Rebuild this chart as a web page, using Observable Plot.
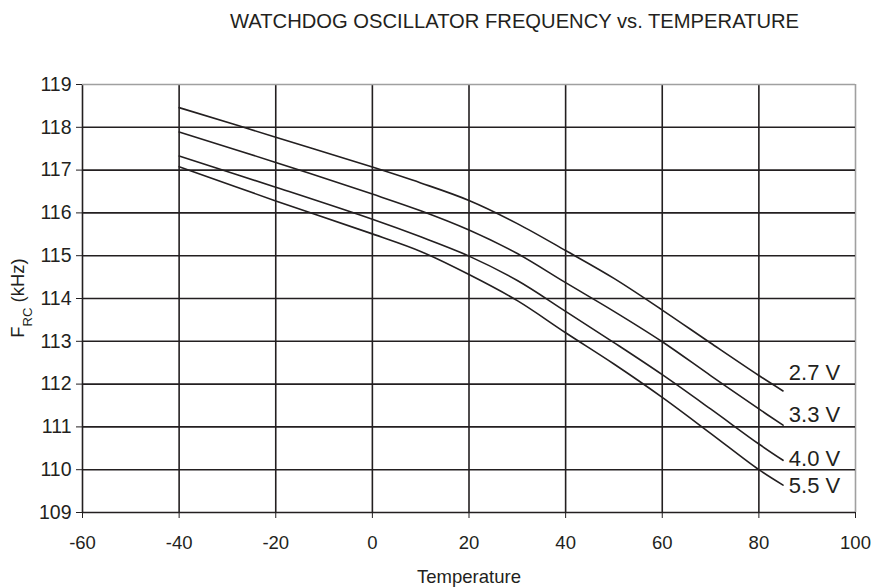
<!DOCTYPE html>
<html>
<head>
<meta charset="utf-8">
<script src="https://cdn.jsdelivr.net/npm/d3@7"></script>
<script src="https://cdn.jsdelivr.net/npm/@observablehq/plot@0.6"></script>
<style>
  body { margin: 0; background: #fff; }
  #wrap { position: relative; width: 874px; height: 588px; font-family: "Liberation Sans", Arial, sans-serif; color: #231f20; }
  #title { position: absolute; left: 230px; top: 11px; font-size: 20.2px; white-space: nowrap; line-height: 1; }
  #chart { position: absolute; left: 0; top: 0; }
</style>
</head>
<body>
<div id="wrap">
  <div id="chart"></div>
  <div id="title">WATCHDOG OSCILLATOR FREQUENCY vs. TEMPERATURE</div>
</div>
<script>
// Temperature (°C) sample points
const temps = [-40, -20, 0, 10, 20, 30, 40, 50, 60, 70, 80, 85];
// F_RC (kHz) for each supply voltage
const f27 = [118.46, 117.77, 117.07, 116.70, 116.29, 115.75, 115.12, 114.47, 113.73, 112.96, 112.20, 111.84];
const f33 = [117.89, 117.18, 116.44, 116.05, 115.60, 115.05, 114.37, 113.70, 112.99, 112.20, 111.42, 111.04];
const f40 = [117.33, 116.60, 115.85, 115.44, 114.99, 114.42, 113.70, 112.97, 112.22, 111.42, 110.60, 110.22];
const f55 = [117.08, 116.28, 115.51, 115.10, 114.56, 113.95, 113.20, 112.47, 111.69, 110.85, 110.00, 109.64];
const seriesNames = ["2.7 V", "3.3 V", "4.0 V", "5.5 V"];
// label anchor values (temperature, frequency)
const labelTemp = [86.2, 86.2, 86.2, 86.2];
const labelFreq = [112.26, 111.29, 110.26, 109.63];
const xTicks = [-60, -40, -20, 0, 20, 40, 60, 80, 100];
const yTicks = [109, 110, 111, 112, 113, 114, 115, 116, 117, 118, 119];

const rows = [];
[f27, f33, f40, f55].forEach((arr, i) =>
  arr.forEach((v, j) => rows.push({series: seriesNames[i], t: temps[j], f: v})));
const labels = seriesNames.map((s, i) => ({s, t: labelTemp[i], f: labelFreq[i]}));

const ink = "#231f20";
const plot = Plot.plot({
  width: 874,
  height: 588,
  marginLeft: 82,
  marginRight: 19,
  marginTop: 84,
  marginBottom: 76,
  style: {fontFamily: '"Liberation Sans", Arial, sans-serif', fontSize: "18px", color: ink, background: "white"},
  x: {domain: [-60, 100]},
  y: {domain: [109, 119]},
  marks: [
    Plot.ruleX(xTicks.filter(d => d < 100), {stroke: ink, strokeWidth: 1.6}),
    Plot.ruleX([100], {stroke: "#a0a0a0", strokeWidth: 1.6}),
    Plot.ruleY(yTicks.filter(d => d < 119), {stroke: ink, strokeWidth: 1.6}),
    Plot.ruleY([119], {stroke: "#a0a0a0", strokeWidth: 1.6}),
    Plot.axisX({ticks: xTicks, tickSize: 6, tickPadding: 17, tickFormat: d => String(d), label: "Temperature", labelAnchor: "center", labelArrow: "none", labelOffset: 70, fontSize: 18.5, stroke: ink}),
    Plot.axisY({ticks: yTicks, tickSize: 6, tickPadding: 5, tickFormat: d => String(d), label: null, fontSize: 19.5, stroke: ink}),
    Plot.line(rows, {x: "t", y: "f", z: "series", stroke: ink, strokeWidth: 1.6, curve: "catmull-rom"}),
    Plot.text(labels, {x: "t", y: "f", text: "s", textAnchor: "start", fontSize: 22, fill: ink})
  ]
});
document.getElementById("chart").appendChild(plot);

// y-axis label with subscript
const svg = d3.select(plot);
const yl = svg.append("text")
  .attr("transform", "translate(24,298) rotate(-90)")
  .attr("text-anchor", "middle")
  .attr("fill", ink)
  .style("font-size", "18.5px");
yl.append("tspan").text("F");
yl.append("tspan").attr("baseline-shift", "sub").style("font-size", "13px").text("RC");
yl.append("tspan").text(" (kHz)");
</script>
</body>
</html>
